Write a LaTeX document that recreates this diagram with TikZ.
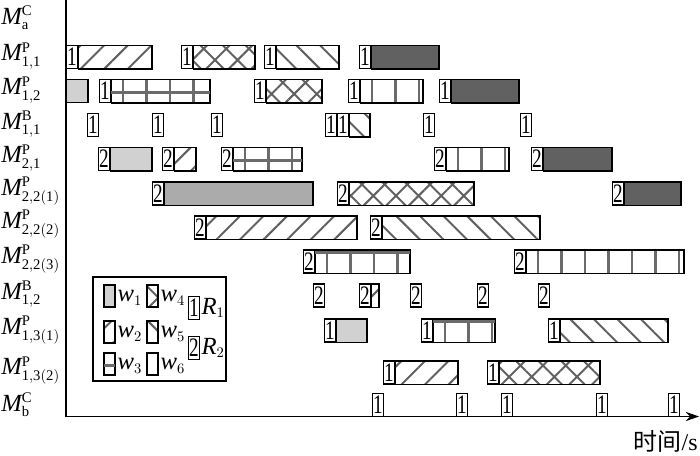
\documentclass[tikz,border=0pt]{standalone}
\usepackage{fontspec}
\setmainfont{Liberation Serif}
\newfontfamily\cjk{Noto Sans CJK SC}
\newfontfamily\tagfont[FakeStretch=0.72]{Liberation Serif}
\DeclareMathSizes{18.5}{18.5}{11}{8}
\usetikzlibrary{patterns.meta,arrows.meta}

\begin{document}
\begin{tikzpicture}[
        x=0.75pt, y=-0.75pt,
        every node/.style={font=\fontsize{17}{17}\selectfont},
        tag/.style={draw, fill=white, line width=0.8pt, inner sep=0pt,
            minimum width=8.25pt, minimum height=17.25pt,
            font=\tagfont\fontsize{20}{20}\selectfont},
        bar/.style={draw, line width=0.8pt},
        vl/.style={draw=black!58, line width=1.8pt},
        w1/.style={bar, fill=black!18},
        mid/.style={bar, fill=black!33},
        dark/.style={bar, fill=black!62},
        w2/.style={bar, pattern color=black!62,
            pattern={Lines[angle=45, distance=12.5pt, line width=1.5pt]}},
        w4/.style={bar, pattern color=black!62,
            pattern={Hatch[angle=45, distance=12pt, line width=1.5pt]}},
        w5/.style={bar, pattern color=black!62,
            pattern={Lines[angle=-45, distance=12.5pt, line width=1.5pt]}},
        w6/.style={bar, path picture={
            \foreach \i in {0,...,9}
              \draw[vl] ([xshift=9pt+\i*17.6pt]path picture bounding box.south west)
                -- ([xshift=9pt+\i*17.6pt]path picture bounding box.north west);}},
        w3/.style={w6, postaction={path picture={
            \draw[vl] ([yshift=-1pt]path picture bounding box.west)
              -- ([yshift=-1pt]path picture bounding box.east);}}},
        w6t/.style={w6, postaction={path picture={
            \draw[vl] ([yshift=-2pt]path picture bounding box.north west)
              -- ([yshift=-2pt]path picture bounding box.north east);}}}
      ]
      \useasboundingbox (0,0) rectangle (700,456);

      % axes
      \coordinate (top) at (66,0);
      \coordinate (o)   at (66,416.5);
      \coordinate (end) at (699,416.5);
      \draw[line width=1.1pt] (top) -- (o);
      \draw[line width=1.1pt, -{Stealth[length=10pt, width=7pt]}] (o) -- (end);
      \node[anchor=east, inner sep=0pt, font=\fontsize{18}{18}\selectfont]
      (time) at (698,441) {{\cjk 时间}/s};

      % machines
      \foreach \y/\p/\q [count=\n] in {18/C/a, 56/P/{1,1}, 90/P/{1,2},
          124.5/B/{1,1}, 158/P/{2,1}, 191/P/{2,2(1)}, 224/P/{2,2(2)},
          259/P/{2,2(3)}, 294.5/B/{1,2}, 330/P/{1,3(1)}, 370.5/P/{1,3(2)},
          405/C/b}{
          \node[anchor=west, inner sep=0pt, font=\fontsize{18.5}{18.5}\selectfont]
          (m\n) at (1,\y) {$\mathit{M}^{\mathrm{\p}}_{\mathrm{\q}}$};
        }

      % operations with robot tag
      \foreach \y/\a/\b/\s/\k [count=\n] in {
          57/66/152/w2/1, 57/181/255/w4/1, 57/264/339/w5/1, 57/359/439/dark/1,
          91/99/210/w3/1, 91/254/322/w4/1, 91/348/423/w6/1, 91/439/519/dark/1,
          125/337/370/w5/1,
          159/98/152/w1/2, 159/162/196/w2/2, 159/221/302/w3/2,
          159/434/509/w6/2, 159/531/612/dark/2,
          193.5/152/313/mid/2, 193.5/337/474/w4/2, 193.5/612/681/dark/2,
          227.5/194/357/w2/2, 227.5/370/540/w5/2,
          261.5/303/410/w6t/2, 261.5/514/684/w6/2,
          295.5/359/379/w2/2,
          330.5/324/367/w1/1, 330.5/421/495/w6t/1, 330.5/548/668/w5/1,
          372.5/383/458/w2/1, 372.5/487/600/w4/1}{
          \node[tag, anchor=west] (job\n) at (\a,\y) {\k};
          \path[\s] (job\n.south east) rectangle (\b,\y-11.5);
        }
      \path[w1] (66,79.5) rectangle (88,102.5);

      % robot moves only
      \foreach \y/\a/\k [count=\n] in {125/87/1, 125/152/1, 125/211/1,
          125/325/1, 125/423/1, 125/520/1,
          295.5/313/2, 295.5/410/2, 295.5/477/2, 295.5/538/2,
          405/372/1, 405/456/1, 405/501/1, 405/596/1, 405/668/1}{
          \node[tag, anchor=west] (mv\n) at (\a,\y) {\k};
        }

      % legend
      \draw[bar] (93,277) rectangle (226,381);
      \foreach \x/\y/\s/\t in {104/296/w1/1, 104/332/w2/2, 104/364/w3/3,
          147/296/w4/4, 147/332/w5/5, 147/364/w6/6}{
          \path[\s] (\x,\y-11) rectangle (\x+11,\y+11);
          \node[anchor=west, inner sep=1pt, font=\fontsize{18.5}{18.5}\selectfont]
          (lw\t) at (\x+12,\y+2) {$\mathit{w}_{\t}$};
        }
      \node[tag, anchor=west] (lr1) at (188,308) {1};
      \node[anchor=west, inner sep=1pt, font=\fontsize{18.5}{18.5}\selectfont]
      (lR1) at (lr1.east) {$\mathit{R}_1$};
      \node[tag, anchor=west] (lr2) at (188,348) {2};
      \node[anchor=west, inner sep=1pt, font=\fontsize{18.5}{18.5}\selectfont]
      (lR2) at (lr2.east) {$\mathit{R}_2$};
    \end{tikzpicture}
\end{document}
